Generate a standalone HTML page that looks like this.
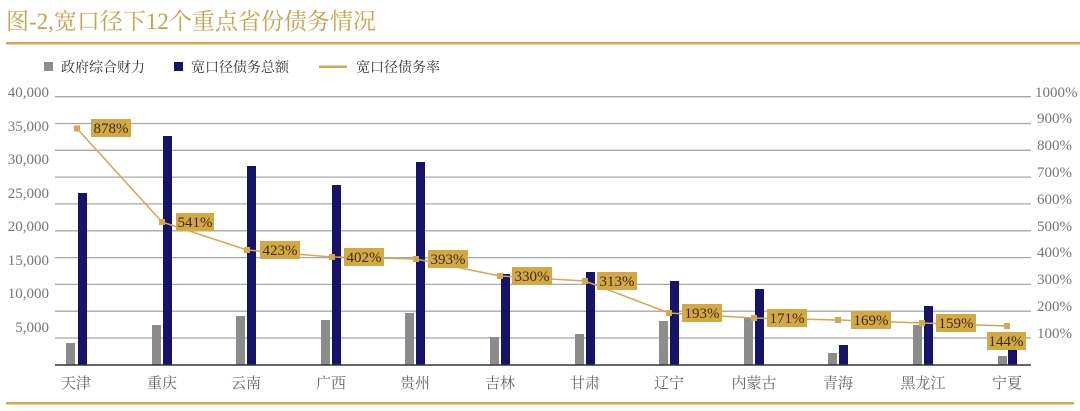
<!DOCTYPE html>
<html><head><meta charset="utf-8"><style>
html,body{margin:0;padding:0;background:#fff;width:1080px;height:411px;overflow:hidden}
svg{display:block}
text{font-family:"Liberation Serif","Noto Serif CJK SC",serif}
</style></head><body>
<svg width="1080" height="411" viewBox="0 0 1080 411" xmlns="http://www.w3.org/2000/svg">
<text x="6" y="29" font-size="23" fill="#c9a14a">图-2,宽口径下12个重点省份债务情况</text>
<rect x="6" y="42" width="1074" height="2.5" fill="#d2a94f"/>
<rect x="6" y="402" width="1068" height="2.5" fill="#d2a94f"/>
<!-- legend -->
<rect x="44" y="62" width="9" height="9" fill="#8c8c8c"/>
<text x="61" y="72" font-size="14" fill="#333">政府综合财力</text>
<rect x="174" y="62" width="9" height="9" fill="#15136b"/>
<text x="191" y="72" font-size="14" fill="#333">宽口径债务总额</text>
<rect x="319" y="65.5" width="28" height="2.5" fill="#d2a94f"/>
<text x="356" y="72" font-size="14" fill="#333">宽口径债务率</text>
<!-- gridlines -->
<g stroke="#a8a8a8" stroke-width="1.3">
<line x1="55" x2="1031" y1="96.7" y2="96.7"/><line x1="55" x2="1031" y1="123.5" y2="123.5"/>
<line x1="55" x2="1031" y1="150.3" y2="150.3"/><line x1="55" x2="1031" y1="177.1" y2="177.1"/>
<line x1="55" x2="1031" y1="203.9" y2="203.9"/><line x1="55" x2="1031" y1="230.8" y2="230.8"/>
<line x1="55" x2="1031" y1="257.6" y2="257.6"/><line x1="55" x2="1031" y1="284.4" y2="284.4"/>
<line x1="55" x2="1031" y1="311.2" y2="311.2"/><line x1="55" x2="1031" y1="338" y2="338"/>
</g>
<!-- left axis labels -->
<g font-size="15" fill="#777" text-anchor="end">
<text x="49" y="97">40,000</text><text x="49" y="131">35,000</text><text x="49" y="164">30,000</text>
<text x="49" y="198">25,000</text><text x="49" y="231">20,000</text><text x="49" y="265">15,000</text>
<text x="49" y="298">10,000</text><text x="49" y="332">5,000</text>
</g>
<g font-size="15" fill="#777">
<text x="1035" y="97">1000%</text><text x="1037" y="123">900%</text><text x="1037" y="150">800%</text>
<text x="1037" y="177">700%</text><text x="1037" y="204">600%</text><text x="1037" y="231">500%</text>
<text x="1037" y="257">400%</text><text x="1037" y="284">300%</text><text x="1037" y="311">200%</text>
<text x="1037" y="338">100%</text>
</g>
<!-- bars -->
<g fill="#8c8c8c">
<rect x="66" y="343" width="9" height="22"/><rect x="152" y="325" width="9" height="40"/>
<rect x="236" y="316" width="9" height="49"/><rect x="321" y="320" width="9" height="45"/>
<rect x="405" y="313" width="9" height="52"/><rect x="490" y="337" width="9" height="28"/>
<rect x="575" y="334" width="9" height="31"/><rect x="659" y="321" width="9" height="44"/>
<rect x="744" y="318" width="9" height="47"/><rect x="828" y="353" width="9" height="12"/>
<rect x="913" y="325" width="9" height="40"/><rect x="998" y="356" width="9" height="9"/>
</g>
<g fill="#15136b">
<rect x="78" y="193" width="9" height="172"/><rect x="163" y="136" width="9" height="229"/>
<rect x="247" y="166" width="9" height="199"/><rect x="332" y="185" width="9" height="180"/>
<rect x="416" y="162" width="9" height="203"/><rect x="501" y="274" width="9" height="91"/>
<rect x="586" y="272" width="9" height="93"/><rect x="670" y="281" width="9" height="84"/>
<rect x="755" y="289" width="9" height="76"/><rect x="839" y="345" width="9" height="20"/>
<rect x="924" y="306" width="9" height="59"/><rect x="1008" y="349" width="9" height="16"/>
</g>
<line x1="55" x2="1031" y1="365" y2="365" stroke="#333" stroke-width="1.5"/>
<!-- line -->
<polyline fill="none" stroke="#d2a94f" stroke-width="1.5" points="77,128.5 162,222 247,250 332,257 416,259 500,276 585,281 669,313 754,318 838,320 922,323 1007,326"/>
<g fill="#d2a94f">
<rect x="74" y="125.5" width="6" height="6"/><rect x="159" y="219" width="6" height="6"/>
<rect x="244" y="247" width="6" height="6"/><rect x="329" y="254" width="6" height="6"/>
<rect x="413" y="256" width="6" height="6"/><rect x="497" y="273" width="6" height="6"/>
<rect x="582" y="278" width="6" height="6"/><rect x="666" y="310" width="6" height="6"/>
<rect x="751" y="315" width="6" height="6"/><rect x="835" y="317" width="6" height="6"/>
<rect x="919" y="320" width="6" height="6"/><rect x="1004" y="323" width="6" height="6"/>
</g>
<g fill="#d4a843">
<rect x="91" y="119" width="40" height="18"/><rect x="176" y="213" width="38" height="18"/>
<rect x="260" y="241" width="40" height="18"/><rect x="344" y="248" width="40" height="18"/>
<rect x="428" y="250" width="40" height="18"/><rect x="512" y="267" width="40" height="18"/>
<rect x="597" y="272" width="40" height="18"/><rect x="682" y="304" width="40" height="18"/>
<rect x="767" y="309" width="40" height="18"/><rect x="851" y="311" width="40" height="18"/>
<rect x="936" y="314" width="40" height="18"/><rect x="987" y="332" width="39" height="18"/>
</g>
<g font-size="15" fill="#3a2f10" text-anchor="middle">
<text x="111" y="133">878%</text><text x="195" y="227">541%</text><text x="280" y="255">423%</text>
<text x="364" y="262">402%</text><text x="448" y="264">393%</text><text x="532" y="281">330%</text>
<text x="617" y="286">313%</text><text x="702" y="318">193%</text><text x="787" y="323">171%</text>
<text x="871" y="325">169%</text><text x="956" y="328">159%</text><text x="1006" y="346">144%</text>
</g>
<g font-size="15" fill="#666" text-anchor="middle">
<text x="76" y="388">天津</text><text x="162" y="388">重庆</text><text x="246" y="388">云南</text>
<text x="331" y="388">广西</text><text x="415" y="388">贵州</text><text x="500" y="388">吉林</text>
<text x="585" y="388">甘肃</text><text x="669" y="388">辽宁</text><text x="754" y="388">内蒙古</text>
<text x="838" y="388">青海</text><text x="923" y="388">黑龙江</text><text x="1007" y="388">宁夏</text>
</g>
</svg>
</body></html>
